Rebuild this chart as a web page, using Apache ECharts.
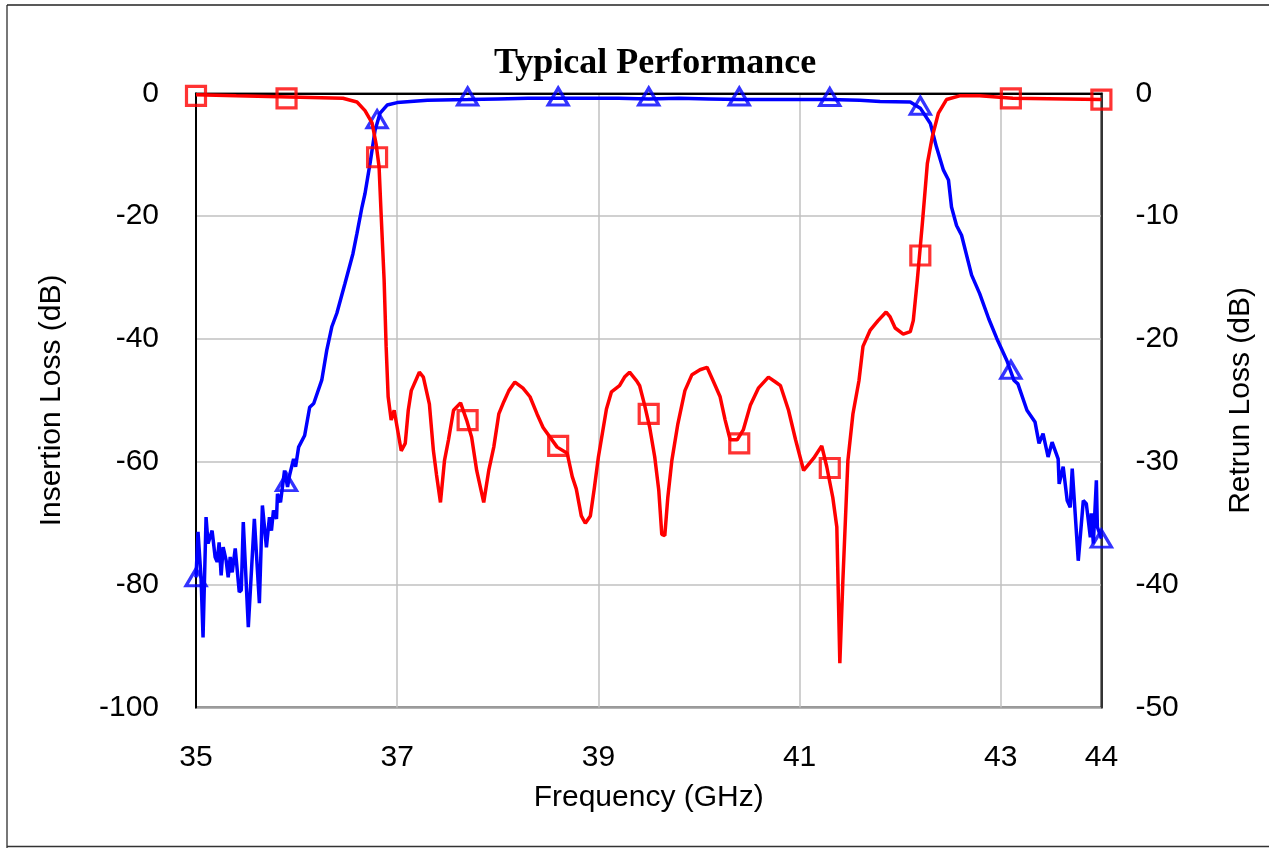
<!DOCTYPE html>
<html>
<head>
<meta charset="utf-8">
<script src="https://cdn.jsdelivr.net/npm/echarts@6/dist/echarts.min.js"></script>
<style>
html,body{margin:0;padding:0;background:#fff;}
#c{width:1269px;height:848px;}
</style>
</head>
<body>
<div id="c"></div>
<script>
const xTicks = [35, 37, 39, 41, 43, 44];
const blueFreq = [35.00,35.02,35.05,35.07,35.10,35.12,35.16,35.19,35.21,35.23,35.25,35.27,35.30,35.32,35.34,35.36,35.39,35.43,35.45,35.47,35.52,35.58,35.63,35.66,35.70,35.73,35.75,35.77,35.80,35.81,35.84,35.88,35.91,35.93,35.97,35.99,36.02,36.08,36.13,36.17,36.25,36.30,36.35,36.40,36.48,36.56,36.60,36.65,36.68,36.73,36.78,36.83,36.90,37.00,37.30,37.70,38.00,38.30,38.60,38.90,39.20,39.50,39.80,40.10,40.40,40.70,41.00,41.30,41.60,41.80,42.10,42.20,42.30,42.36,42.43,42.48,42.51,42.56,42.61,42.71,42.79,42.88,42.96,43.06,43.13,43.17,43.26,43.34,43.38,43.42,43.47,43.51,43.57,43.58,43.62,43.66,43.69,43.71,43.77,43.82,43.85,43.89,43.90,43.92,43.95,43.96,44.00];
const insertionLoss = [-78.8,-71.4,-78.8,-88.6,-69.0,-73.3,-71.2,-75.5,-76.3,-73.1,-78.5,-73.9,-76.1,-78.8,-75.5,-78.0,-74.1,-81.2,-80.9,-69.8,-86.9,-69.3,-83.0,-67.1,-73.9,-69.0,-71.2,-67.9,-69.3,-65.2,-66.6,-61.4,-64.1,-62.2,-59.5,-60.8,-57.6,-55.7,-51.1,-50.5,-46.7,-41.8,-38.0,-35.8,-31.0,-26.1,-22.8,-18.5,-16.3,-11.4,-6.0,-3.2,-1.9,-1.5,-1.1,-1.0,-0.9,-0.8,-0.8,-0.8,-0.8,-0.9,-0.8,-0.9,-1.0,-1.0,-1.0,-1.0,-1.1,-1.3,-1.4,-2.4,-4.9,-8.7,-12.5,-14.1,-18.5,-21.5,-23.1,-29.6,-32.6,-36.7,-39.9,-43.5,-46.7,-47.3,-51.6,-53.5,-57.0,-55.4,-59.2,-56.8,-59.5,-63.6,-60.8,-66.3,-67.4,-61.1,-76.1,-66.3,-66.8,-72.3,-68.4,-73.3,-63.0,-70.6,-72.5];
const redFreq = [35.00,35.40,35.93,36.46,36.60,36.68,36.75,36.79,36.82,36.84,36.87,36.89,36.91,36.94,36.97,37.04,37.08,37.11,37.14,37.22,37.26,37.32,37.36,37.39,37.43,37.47,37.51,37.56,37.63,37.69,37.74,37.79,37.86,37.91,37.96,38.01,38.06,38.11,38.17,38.25,38.32,38.39,38.45,38.59,38.69,38.74,38.78,38.83,38.87,38.92,38.96,39.00,39.08,39.13,39.21,39.26,39.31,39.38,39.41,39.46,39.51,39.56,39.60,39.63,39.66,39.69,39.73,39.79,39.86,39.93,40.01,40.08,40.14,40.21,40.26,40.31,40.38,40.44,40.51,40.59,40.69,40.76,40.81,40.89,40.96,41.04,41.14,41.22,41.27,41.33,41.37,41.40,41.43,41.48,41.53,41.59,41.63,41.70,41.78,41.86,41.90,41.95,42.03,42.10,42.13,42.17,42.22,42.27,42.32,42.38,42.46,42.59,42.79,43.12,44.00];
const returnLoss = [-0.1,-0.2,-0.3,-0.4,-0.7,-1.4,-2.4,-4.1,-6.0,-9.8,-15.2,-20.6,-24.7,-26.6,-25.8,-29.1,-28.5,-25.8,-24.2,-22.7,-23.1,-25.3,-29.1,-31.0,-33.3,-29.9,-28.2,-25.8,-25.2,-26.6,-28.0,-30.7,-33.3,-30.7,-28.8,-26.1,-25.1,-24.2,-23.5,-24.0,-24.7,-26.1,-27.2,-28.8,-29.3,-31.2,-32.2,-34.4,-35.0,-34.4,-32.1,-29.6,-25.7,-24.3,-23.8,-23.1,-22.7,-23.4,-23.8,-25.4,-27.2,-29.6,-32.3,-35.9,-36.0,-32.9,-29.9,-26.9,-24.2,-22.9,-22.5,-22.3,-23.4,-24.7,-26.6,-28.2,-28.2,-27.4,-25.4,-24.0,-23.1,-23.5,-23.8,-25.8,-28.2,-30.7,-29.7,-28.7,-30.4,-32.9,-35.3,-46.4,-39.7,-29.9,-26.1,-23.4,-20.6,-19.3,-18.5,-17.8,-18.2,-19.1,-19.6,-19.4,-18.5,-15.2,-10.6,-5.7,-3.5,-1.6,-0.5,-0.2,-0.2,-0.4,-0.5];
const markerFreq = [35.0,35.9,36.8,37.7,38.6,39.5,40.4,41.3,42.2,43.1,44.0];
const blueMarker = [-78.8,-63.3,-4.2,-0.5,-0.5,-0.5,-0.5,-0.6,-2.0,-45.0,-72.5];
const redMarker = [-0.2,-0.4,-5.2,-26.6,-28.7,-26.1,-28.5,-30.5,-13.2,-0.4,-0.5];

const zip = (a, b) => a.map((v, i) => [v, b[i]]);
const chart = echarts.init(document.getElementById('c'));
const sans = 'Liberation Sans';
chart.setOption({
  backgroundColor: '#fff',
  animation: false,
  title: {
    text: 'Typical Performance',
    left: 650,
    textAlign: 'center',
    top: 41,
    textStyle: {fontFamily: 'Liberation Serif', fontWeight: 'bold', fontSize: 36, color: '#000'}
  },
  graphic: [
    {type: 'line', shape: {x1: 7, y1: 5, x2: 7, y2: 848}, style: {stroke: '#777', lineWidth: 2}},
    {type: 'line', shape: {x1: 7, y1: 5, x2: 1269, y2: 5}, style: {stroke: '#222', lineWidth: 1.5}},
    {type: 'line', shape: {x1: 7, y1: 846.5, x2: 1269, y2: 846.5}, style: {stroke: '#333', lineWidth: 1.5}}
  ],
  grid: {left: 196, right: 167.6, top: 93.4, bottom: 140.5, show: true, borderColor: '#333', borderWidth: 2, backgroundColor: 'transparent'},
  xAxis: {
    type: 'value', min: 35, max: 44, interval: 2,
    name: 'Frequency (GHz)', nameLocation: 'middle', nameGap: 75,
    nameTextStyle: {fontFamily: sans, fontSize: 30, color: '#000'},
    axisLine: {show: true, lineStyle: {color: '#000', width: 2}},
    axisTick: {show: false},
    axisLabel: {fontFamily: sans, fontSize: 30, color: '#000', margin: 35, showMaxLabel: true, showMinLabel: true,
      customValues: xTicks},
    splitLine: {show: true, lineStyle: {color: '#c0c0c0', width: 1.5}}
  },
  yAxis: [
    {
      type: 'value', min: -100, max: 0, interval: 20, position: 'left',
      name: 'Insertion Loss (dB)', nameLocation: 'middle', nameGap: 129,
      nameTextStyle: {fontFamily: sans, fontSize: 30, color: '#000'},
      axisLine: {show: true, lineStyle: {color: '#000', width: 2}},
      axisTick: {show: false},
      axisLabel: {fontFamily: sans, fontSize: 30, color: '#000', margin: 37, padding: [6, 0, 0, 0]},
      splitLine: {show: true, lineStyle: {color: '#c0c0c0', width: 1.5}}
    },
    {
      type: 'value', min: -50, max: 0, interval: 10, position: 'right',
      name: 'Retrun Loss (dB)', nameLocation: 'middle', nameGap: 124,
      nameTextStyle: {fontFamily: sans, fontSize: 30, color: '#000'},
      axisLine: {show: true, lineStyle: {color: '#333', width: 2}},
      axisTick: {show: false},
      axisLabel: {fontFamily: sans, fontSize: 30, color: '#000', margin: 34, padding: [6, 0, 0, 0]},
      splitLine: {show: false}
    }
  ],
  series: [
    {type: 'line', yAxisIndex: 0, data: zip(blueFreq, insertionLoss), showSymbol: false,
      lineStyle: {color: '#0000ff', width: 3.5}, itemStyle: {color: '#0000ff'}, z: 2},
    {type: 'scatter', yAxisIndex: 0, data: zip(markerFreq, blueMarker), symbol: 'triangle', symbolSize: [20, 17],
      itemStyle: {color: 'rgba(0,0,0,0)', borderColor: '#0000ff', borderWidth: 3.2}, z: 3},
    {type: 'line', yAxisIndex: 1, data: zip(redFreq, returnLoss), showSymbol: false,
      lineStyle: {color: '#ff0000', width: 3.5}, itemStyle: {color: '#ff0000'}, z: 4},
    {type: 'scatter', yAxisIndex: 1, data: zip(markerFreq, redMarker), symbol: 'rect', symbolSize: [19, 19],
      itemStyle: {color: 'rgba(0,0,0,0)', borderColor: '#ff0000', borderWidth: 3.2}, z: 5}
  ]
});
</script>
</body>
</html>
